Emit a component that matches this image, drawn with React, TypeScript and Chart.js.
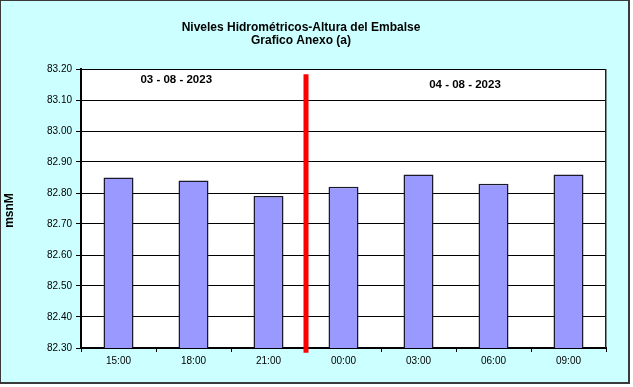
import { useEffect, useRef } from "react";
import { Chart, registerables } from "chart.js";

Chart.register(...registerables);

const categories = ["15:00", "18:00", "21:00", "00:00", "03:00", "06:00", "09:00"];
const levels = [82.85, 82.84, 82.79, 82.82, 82.86, 82.83, 82.86];
const yTickValues = [82.3, 82.4, 82.5, 82.6, 82.7, 82.8, 82.9, 83.0, 83.1, 83.2];
const titleLines = ["Niveles Hidrométricos-Altura del Embalse", "Grafico Anexo (a)"];
const yAxisTitle = "msnM";
const dateLabels = ["03 - 08 - 2023", "04 - 08 - 2023"];
// annotation anchors, in data units (category index, level)
const dateLabelCategory = [0.77, 4.62];
const dateLabelLevel = [83.155, 83.14];
const dividerCategory = 2.5;
const dividerLevels = [82.285, 83.183];

const FONT = '"Liberation Sans", Arial, sans-serif';

const decor = {
  id: "decor",
  beforeDraw(chart: any) {
    const { ctx, chartArea: a, width, height } = chart;
    ctx.save();
    ctx.fillStyle = "#ffffff";
    ctx.fillRect(0, 0, width, height);
    ctx.fillStyle = "#3a3a3a";
    ctx.fillRect(0, 0, 630, 384);
    ctx.fillStyle = "#CCFFFF";
    ctx.fillRect(1, 1, 627, 381);
    ctx.fillStyle = "#ffffff";
    ctx.fillRect(a.left, a.top, a.right - a.left, a.bottom - a.top);
    ctx.restore();
  },
  afterDraw(chart: any) {
    const { ctx, chartArea: a } = chart;
    const xs = chart.scales.x;
    const ys = chart.scales.y;
    ctx.save();
    // plot frame top/right
    ctx.strokeStyle = "#000";
    ctx.lineWidth = 1;
    ctx.beginPath();
    ctx.moveTo(a.left, a.top + 0.5);
    ctx.lineTo(a.right, a.top + 0.5);
    ctx.stroke();
    ctx.lineWidth = 1.5;
    ctx.strokeStyle = "#222";
    ctx.beginPath();
    ctx.moveTo(a.right - 0.25, a.top);
    ctx.lineTo(a.right - 0.25, a.bottom);
    ctx.stroke();

    // red divider
    const dx = xs.getPixelForValue(dividerCategory);
    ctx.strokeStyle = "#FF0000";
    ctx.lineWidth = 5;
    ctx.beginPath();
    ctx.moveTo(dx, ys.getPixelForValue(dividerLevels[1]));
    ctx.lineTo(dx, ys.getPixelForValue(dividerLevels[0]));
    ctx.stroke();

    // date labels
    ctx.fillStyle = "#000";
    ctx.font = `bold 11.5px ${FONT}`;
    ctx.textAlign = "center";
    ctx.textBaseline = "alphabetic";
    dateLabels.forEach((t, i) => {
      ctx.fillText(t, xs.getPixelForValue(dateLabelCategory[i]), ys.getPixelForValue(dateLabelLevel[i]));
    });

    // title
    ctx.font = `bold 12px ${FONT}`;
    ctx.fillText(titleLines[0], 301, 30.5);
    ctx.fillText(titleLines[1], 301, 44);

    // y axis title
    ctx.translate(13, (a.top + a.bottom) / 2 + 2);
    ctx.rotate(-Math.PI / 2);
    ctx.fillText(yAxisTitle, 0, 0);
    ctx.restore();
  },
};

export default function App() {
  const ref = useRef<HTMLCanvasElement>(null);
  useEffect(() => {
    document.body.style.margin = "0";
    const chart = new Chart(ref.current as HTMLCanvasElement, {
      type: "bar",
      data: {
        labels: categories,
        datasets: [
          {
            data: levels,
            backgroundColor: "#9999FF",
            borderColor: "#1a1a2a",
            borderWidth: 1.5,
            barPercentage: 0.4,
            categoryPercentage: 1,
          },
        ],
      },
      options: {
        responsive: false,
        animation: false,
        layout: { padding: { top: 69, right: 27, left: 0, bottom: 0 } },
        plugins: { legend: { display: false }, tooltip: { enabled: false }, title: { display: false } },
        scales: {
          x: {
            offset: true,
            grid: { display: true, drawOnChartArea: false, offset: true, tickLength: 4, color: "#000" },
            border: { display: true, color: "#000", width: 2 },
            ticks: { color: "#000", font: { family: FONT, size: 10 }, padding: 3, maxRotation: 0 },
            afterFit: (s: any) => {
              s.height = 39;
            },
          },
          y: {
            min: 82.3,
            max: 83.2,
            grid: { color: "#000", lineWidth: 1, tickLength: 5 },
            border: { display: true, color: "#000", width: 2 },
            ticks: {
              color: "#000",
              font: { family: FONT, size: 10 },
              padding: 4,
              callback: (v: any) => Number(v).toFixed(2),
            },
            afterBuildTicks: (s: any) => {
              s.ticks = yTickValues.map((v) => ({ value: v }));
            },
            afterFit: (s: any) => {
              s.width = 81;
            },
          },
        },
      },
      plugins: [decor],
    });
    return () => chart.destroy();
  }, []);
  return <canvas ref={ref} width={633} height={387} style={{ display: "block" }} />;
}
